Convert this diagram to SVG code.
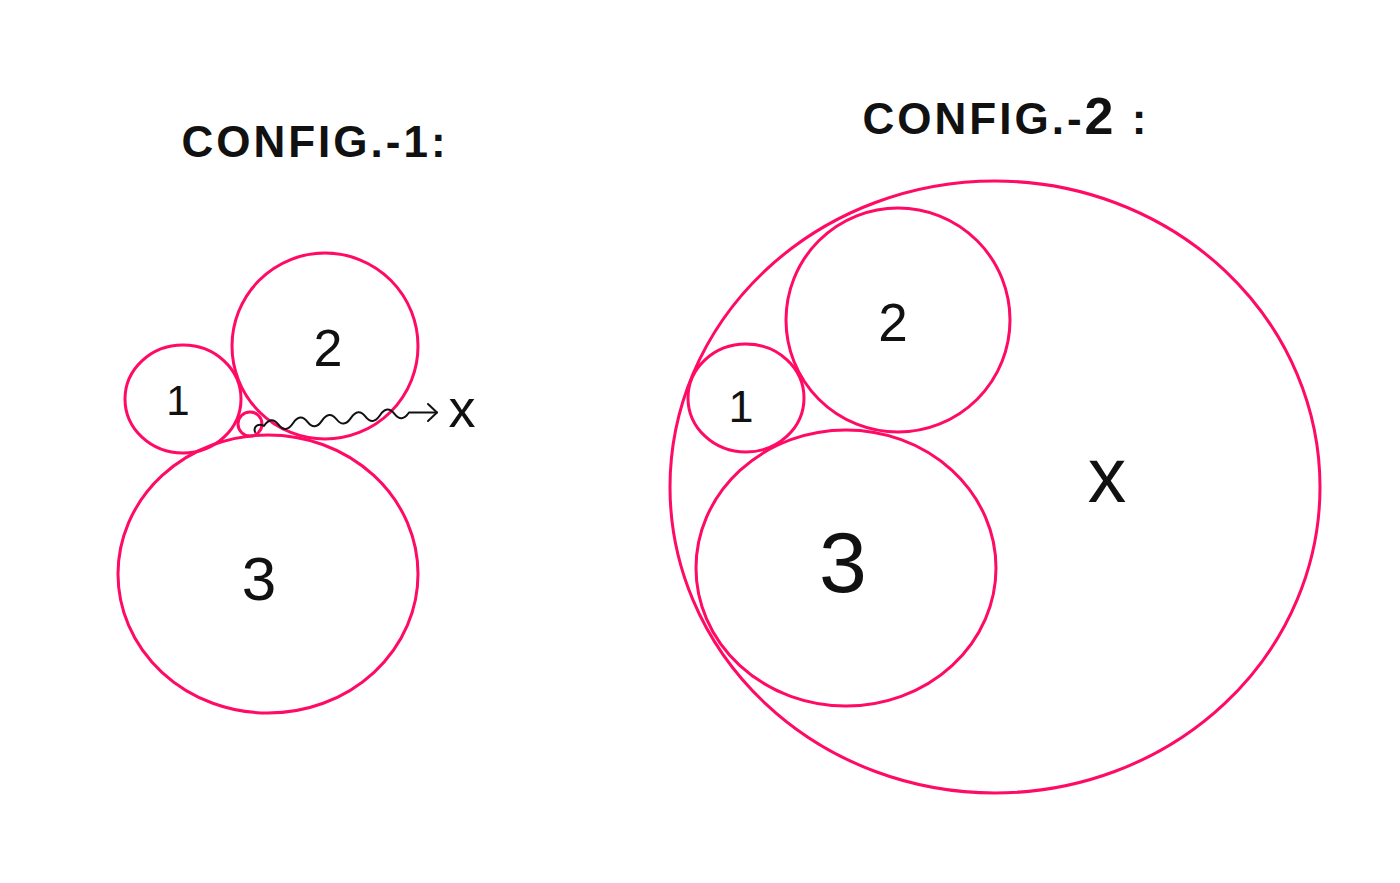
<svg xmlns="http://www.w3.org/2000/svg" width="1400" height="883" viewBox="0 0 1400 883">
<style>
.c{fill:none;stroke:#ff0a64;stroke-width:3}
.t{font-family:"Liberation Sans",Arial,sans-serif;fill:#111;text-anchor:middle}
.h{font-family:"Liberation Sans",Arial,sans-serif;font-weight:bold;fill:#111;text-anchor:middle;letter-spacing:3px}
.w{fill:none;stroke:#111;stroke-width:2;stroke-linecap:round;stroke-linejoin:round}
</style>
<rect width="1400" height="883" fill="#fff"/>
<text class="h" x="315" y="157" font-size="44">CONFIG.-1:</text>
<text class="h" x="1006" y="134" font-size="44">CONFIG.-<tspan font-size="52">2</tspan> :</text>
<g id="c1-circle1"><ellipse class="c" cx="183" cy="399" rx="58" ry="54"/><text class="t" x="178" y="415" font-size="42">1</text></g>
<g id="c1-circle2"><circle class="c" cx="325" cy="346" r="93"/><text class="t" x="328" y="366" font-size="52">2</text></g>
<g id="c1-circle3"><ellipse class="c" cx="268" cy="574" rx="150" ry="139"/><text class="t" x="259" y="600" font-size="62">3</text></g>
<g id="c1-small"><circle class="c" cx="250" cy="424" r="12"/></g>
<g id="c1-x"><text class="t" x="462" y="427" font-size="54">x</text></g>
<g id="connectors">
<path class="w" d="M255,432 C253,426 259,423 264,426 Q271.25,415.3 278.5,424.65 T293,423.3 T307.5,421.95 T322,420.6 T336.5,419.25 T351,417.9 T365.5,416.55 T380,415.2 T394.5,413.85 T409,412.5 L437,412.5"/>
<polyline class="w" points="428,404 437,412.5 428,421"/>
</g>
<g id="c2-outer"><ellipse class="c" cx="995" cy="487" rx="325" ry="306"/><text class="t" x="1107" y="502" font-size="77">x</text></g>
<g id="c2-circle2"><circle class="c" cx="898" cy="320" r="112"/><text class="t" x="893" y="341" font-size="53">2</text></g>
<g id="c2-circle1"><ellipse class="c" cx="746" cy="398" rx="58" ry="54"/><text class="t" x="741" y="422" font-size="45">1</text></g>
<g id="c2-circle3"><ellipse class="c" cx="846" cy="568" rx="150" ry="138"/><text class="t" x="843" y="592" font-size="86">3</text></g>
</svg>
